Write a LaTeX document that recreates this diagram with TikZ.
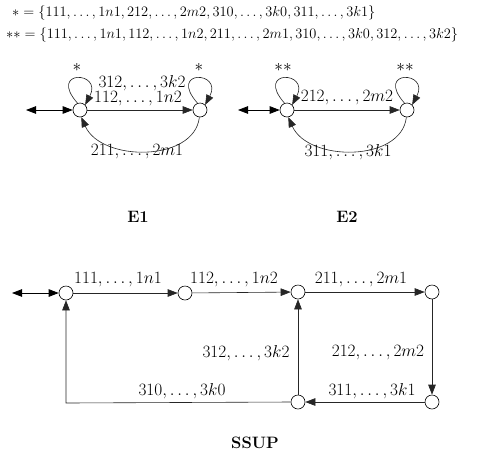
\documentclass[tikz,border=0pt]{standalone}
\usetikzlibrary{arrows.meta}
\begin{document}
\begin{tikzpicture}[x=1pt,y=-1pt,
  st/.style={circle,draw,line width=0.6pt,minimum size=14pt,inner sep=0pt},
  arr/.style={line width=0.6pt,draw=black!85,-{Triangle[length=10pt,width=7.5pt]}},
  darr/.style={line width=0.8pt,{Triangle[length=10pt,width=7.5pt]}-{Triangle[length=10pt,width=7.5pt]}},
  lbl/.style={font=\fontsize{16.5}{18}\selectfont,inner sep=0pt},
  ttl/.style={font=\fontsize{16.5}{18}\selectfont\bfseries,inner sep=0pt},
  top/.style={font=\fontsize{14.3}{16}\selectfont,inner sep=0pt,anchor=west}]
\useasboundingbox (0,0) rectangle (484,456);
% definitions
\node[top] (d1) at (12,13) {$*=\{111,\ldots,1n1,212,\ldots,2m2,310,\ldots,3k0,311,\ldots,3k1\}$};
\node[top] (d2) at (6,35) {$**=\{111,\ldots,1n1,112,\ldots,1n2,211,\ldots,2m1,310,\ldots,3k0,312,\ldots,3k2\}$};
% E1
\node[st] (a) at (80,110) {};
\node[st] (b) at (200,110) {};
\coordinate (ea) at (26,110);
\draw[darr] (ea) -- (a);
\draw[arr] (a) -- (b);
\draw[arr] (a.110) .. controls +(-30,-34) and +(18,-34) .. (a.45);
\draw[arr] (b.110) .. controls +(-30,-34) and +(18,-34) .. (b.45);
\draw[arr] (b.-95) .. controls +(-5,45) and +(20,45) .. (a.-80);
\node[lbl] (l1) at (77,67) {$*$};
\node[lbl] (l2) at (199,67) {$*$};
\node[lbl] (l3) at (142,83) {$312,\ldots,3k2$};
\node[lbl] (l4) at (138,99) {$112,\ldots,1n2$};
\node[lbl] (l5) at (137,152) {$211,\ldots,2m1$};
\node[ttl] (t1) at (138,217) {E1};
% E2
\node[st] (c) at (287,110) {};
\node[st] (d) at (407,110) {};
\coordinate (ec) at (238,110);
\draw[darr] (ec) -- (c);
\draw[arr] (c) -- (d);
\draw[arr] (c.110) .. controls +(-30,-34) and +(18,-34) .. (c.45);
\draw[arr] (d.110) .. controls +(-30,-34) and +(18,-34) .. (d.45);
\draw[arr] (d.-95) .. controls +(-5,45) and +(20,45) .. (c.-80);
\node[lbl] (m1) at (283,67) {$**$};
\node[lbl] (m2) at (405,67) {$**$};
\node[lbl] (m3) at (347,98) {$212,\ldots,2m2$};
\node[lbl] (m5) at (348,152) {$311,\ldots,3k1$};
\node[ttl] (t2) at (347,217) {E2};
% SSUP
\node[st] (s1) at (66,293) {};
\node[st] (s2) at (185,293) {};
\node[st] (s3) at (298,292) {};
\node[st] (s4) at (432,292) {};
\node[st] (s5) at (298,402) {};
\node[st] (s6) at (432,402) {};
\coordinate (es) at (12,293);
\coordinate (cr) at (66,403);
\draw[darr] (es) -- (s1);
\draw[arr] (s1) -- (s2);
\draw[arr] (s2) -- (s3);
\draw[arr] (s3) -- (s4);
\draw[arr] (s4) -- (s6);
\draw[arr] (s6) -- (s5);
\draw[arr] (s5) -- (s3);
\draw[arr] (s5.west) -- (cr) -- (s1);
\node[lbl] (k1) at (118,280) {$111,\ldots,1n1$};
\node[lbl] (k2) at (234,280) {$112,\ldots,1n2$};
\node[lbl] (k3) at (361,280) {$211,\ldots,2m1$};
\node[lbl] (k4) at (246,353) {$312,\ldots,3k2$};
\node[lbl] (k5) at (378,353) {$212,\ldots,2m2$};
\node[lbl] (k6) at (182,391) {$310,\ldots,3k0$};
\node[lbl] (k7) at (372,391) {$311,\ldots,3k1$};
\node[ttl] (t3) at (255,443) {SSUP};
\end{tikzpicture}
\end{document}
